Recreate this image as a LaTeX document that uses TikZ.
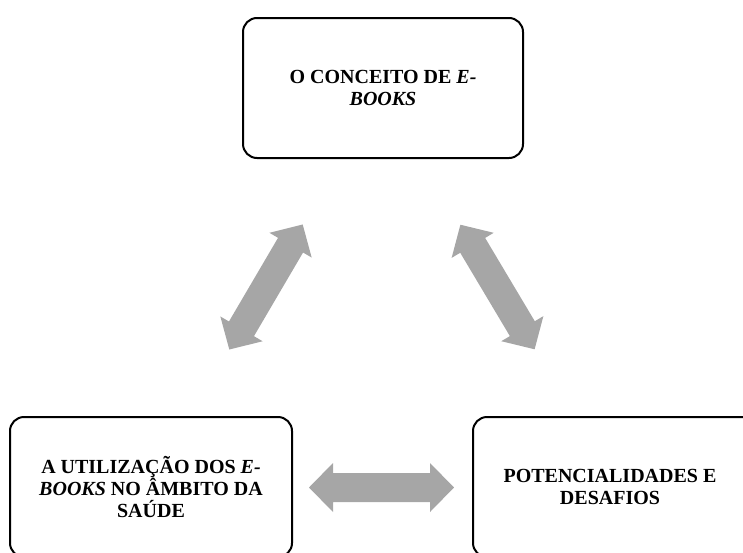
\documentclass[tikz,border=0pt]{standalone}
\usepackage{fontspec}
\setmainfont{Liberation Serif}
\definecolor{arrowgray}{HTML}{A6A6A6}
\tikzset{
  topicbox/.style={draw=black, line width=2pt, rounded corners=14pt, fill=white,
    minimum height=140pt, inner sep=0pt, align=center,
    font=\fontsize{20}{21.7}\selectfont\bfseries},
  pics/dblarrow/.style={code={
    \fill[arrowgray] (-72.5,0) -- (-48.5,-24.5) -- (-48.5,-14.5) -- (48.5,-14.5)
      -- (48.5,-24.5) -- (72.5,0) -- (48.5,24.5) -- (48.5,14.5) -- (-48.5,14.5)
      -- (-48.5,24.5) -- cycle;
  }}
}
\begin{document}
\begin{tikzpicture}[x=1pt,y=-1pt]
\useasboundingbox (0,0) rectangle (743,552);
\clip (0,0) rectangle (743,552);
\node[topicbox, minimum width=280pt] (conceito) at (383,88)
  {O CONCEITO DE \textit{E-}\\\textit{BOOKS}};
\node[topicbox, minimum width=282pt] (utilizacao) at (151,487)
  {A UTILIZAÇÃO DOS \textit{E-}\\\textit{BOOKS} NO ÂMBITO DA\\SAÚDE};
\node[topicbox, minimum width=282pt] (potencial) at (614,487)
  {\hspace*{-8pt}POTENCIALIDADES E\\\hspace*{-8pt}DESAFIOS\phantom{}};
\coordinate (aleft) at (266,287);
\coordinate (aright) at (497.5,287);
\coordinate (abottom) at (381.5,487.5);
\pic[rotate=59.6] at (aleft) {dblarrow};
\pic[rotate=-59.2] at (aright) {dblarrow};
\pic at (abottom) {dblarrow};
\end{tikzpicture}
\end{document}
